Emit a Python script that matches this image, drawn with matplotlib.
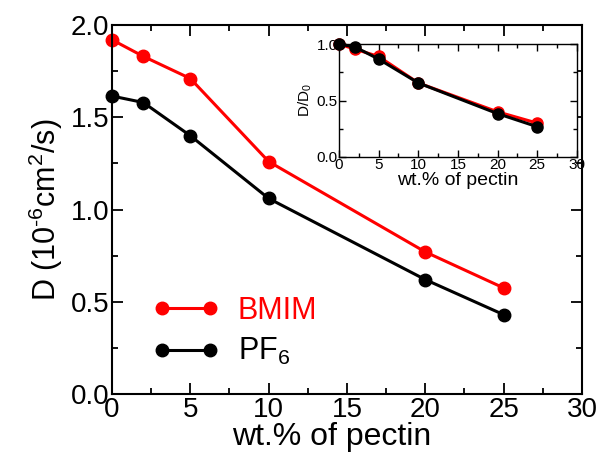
import matplotlib
matplotlib.use("Agg")
import matplotlib.pyplot as plt
from matplotlib.ticker import MultipleLocator, FormatStrFormatter

plt.rcParams['font.family'] = ['Liberation Sans', 'DejaVu Sans']
plt.rcParams['mathtext.fontset'] = 'custom'
plt.rcParams['mathtext.rm'] = 'Liberation Sans'
plt.rcParams['mathtext.it'] = 'Liberation Sans:italic'

# data
pectin = [0, 2, 5, 10, 20, 25]
d_bmim = [1.92, 1.83, 1.71, 1.26, 0.77, 0.575]
d_pf6 = [1.615, 1.58, 1.40, 1.06, 0.62, 0.43]
ratio_bmim = [1.0, 0.955, 0.89, 0.656, 0.40, 0.30]
ratio_pf6 = [1.0, 0.975, 0.867, 0.656, 0.384, 0.268]

red = '#ff0000'

fig = plt.figure(figsize=(6.13, 4.59), dpi=100)
ax = fig.add_axes([0.1827, 0.1416, 0.7667, 0.8039])

ax.plot(pectin, d_bmim, '-o', color=red, lw=2.2, ms=9, label='BMIM')
ax.plot(pectin, d_pf6, '-o', color='black', lw=2.2, ms=9, label='PF$_6$')

ax.set_xlim(0, 30)
ax.set_ylim(0, 2.0)
ax.xaxis.set_major_locator(MultipleLocator(5))
ax.xaxis.set_minor_locator(MultipleLocator(2.5))
ax.yaxis.set_major_locator(MultipleLocator(0.5))
ax.yaxis.set_minor_locator(MultipleLocator(0.25))
ax.yaxis.set_major_formatter(FormatStrFormatter('%.1f'))
ax.tick_params(which='both', direction='in', top=True, right=True, width=1.3)
ax.tick_params(which='major', length=8, labelsize=20, pad=2)
ax.tick_params(which='minor', length=4)
for s in ax.spines.values():
    s.set_linewidth(1.5)
ax.set_xlabel('wt.% of pectin', fontsize=23)
ax.xaxis.set_label_coords(0.468, -0.075)
ax.set_ylabel('D (10$^{\u20106}$cm$^2$/s)', fontsize=22, labelpad=4)

leg = ax.legend(loc='upper left', bbox_to_anchor=(0.06, 0.30), frameon=False,
                fontsize=22, numpoints=2, handlelength=2.2, labelspacing=0.35,
                handletextpad=0.6, borderaxespad=0)
for txt, c in zip(leg.get_texts(), [red, 'black']):
    txt.set_color(c)

# inset
ins = fig.add_axes([0.553, 0.658, 0.388, 0.246])
ins.plot(pectin, ratio_bmim, '-o', color=red, lw=2.2, ms=8)
ins.plot(pectin, ratio_pf6, '-o', color='black', lw=2.2, ms=8)
ins.set_xlim(0, 30)
ins.set_ylim(0, 1.0)
ins.xaxis.set_major_locator(MultipleLocator(5))
ins.xaxis.set_minor_locator(MultipleLocator(2.5))
ins.yaxis.set_major_locator(MultipleLocator(0.5))
ins.yaxis.set_minor_locator(MultipleLocator(0.25))
ins.yaxis.set_major_formatter(FormatStrFormatter('%.1f'))
ins.tick_params(which='both', direction='in', top=True, right=True, width=1.0)
ins.tick_params(which='major', length=5, labelsize=11, pad=1)
ins.tick_params(which='minor', length=3)
for s in ins.spines.values():
    s.set_linewidth(1.0)
ins.set_xlabel('wt.% of pectin', fontsize=14, labelpad=0)
ins.set_ylabel('D/D$_0$', fontsize=11, labelpad=2)
for line in ins.get_lines() + ax.get_lines():
    line.set_clip_on(False)

fig.savefig('out.png', dpi=100)
